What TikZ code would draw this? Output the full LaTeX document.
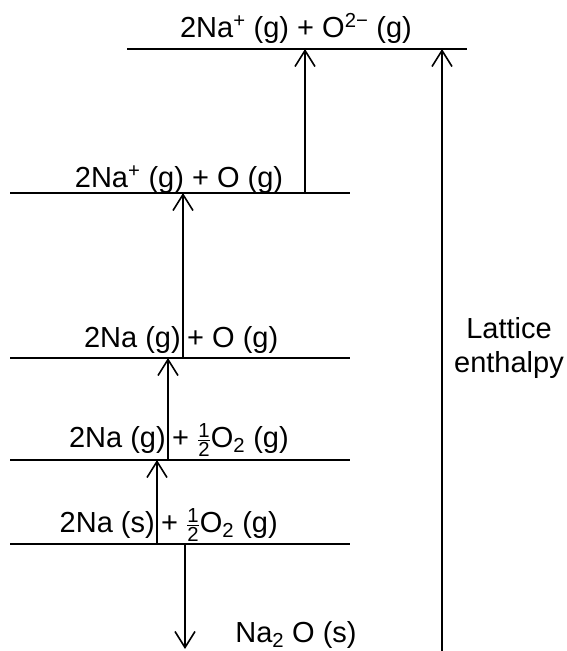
\documentclass[tikz,border=0pt]{standalone}
\usepackage{fontspec}
\usepackage{amsmath}
\setmainfont{Liberation Sans}
\usetikzlibrary{
  arrows.meta,
  positioning
}
\tikzset{
  level/.style={line width=1.8pt},
  jump/.style={line width=1.6pt, -{Straight Barb[length=16pt, width=20pt]}},
  species/.style={font=\fontsize{29}{34}\selectfont, inner sep=0pt}
}
\newcommand{\halfof}{\ensuremath{\frac{\text{1}}{\text{2}}}}

\begin{document}
\begin{tikzpicture}[x=1pt, y=-1pt]
  \useasboundingbox (0,0) rectangle (566,651);
  % energy levels
  \coordinate (l1w) at (127,49);  \coordinate (l1e) at (467,49);
  \coordinate (l2w) at (10,193);  \coordinate (l2e) at (350,193);
  \coordinate (l3w) at (10,358);  \coordinate (l3e) at (350,358);
  \coordinate (l4w) at (10,460);  \coordinate (l4e) at (350,460);
  \coordinate (l5w) at (10,544);  \coordinate (l5e) at (350,544);
  \foreach \lv in {1,...,5}
    \draw[level] (l\lv w) -- (l\lv e);

  % species on each level
  \node[species, anchor=base] (ions) at (296,37)
    {2Na\textsuperscript{+} (g) + O\textsuperscript{2−} (g)};
  \node[species, anchor=base] (ionO) at (179,187)
    {2Na\textsuperscript{+} (g) + O (g)};
  \node[species, anchor=base east] (atomsL) at (181,347) {2Na (g)};
  \node[species, anchor=base west] (atomsR) at (187,347) {+ O (g)};
  \node[species, anchor=base east] (gasL) at (166,447) {2Na (g)};
  \node[species, anchor=base west] (gasR) at (172,447) {+ \halfof O\textsubscript{2} (g)};
  \node[species, anchor=base east] (elemL) at (155,532) {2Na (s)};
  \node[species, anchor=base west] (elemR) at (161,532) {+ \halfof O\textsubscript{2} (g)};
  \node[species, anchor=base] (solid) at (296,642) {Na\textsubscript{2} O (s)};
  \node[species, align=center, anchor=north] (lattice) at (509,317) {Lattice\\enthalpy};

  % steps
  \coordinate (sink) at (185,649);
  \coordinate (base) at (442,651);
  \draw[jump] (157,0 |- l5w) -- (157,0 |- l4w);
  \draw[jump] (168,0 |- l4w) -- (168,0 |- l3w);
  \draw[jump] (183,0 |- l3w) -- (183,0 |- l2w);
  \draw[jump] (305,0 |- l2w) -- (305,0 |- l1w);
  \draw[jump] (sink |- l5w) -- (sink);
  \draw[jump] (base) -- (base |- l1w);
\end{tikzpicture}
\end{document}
